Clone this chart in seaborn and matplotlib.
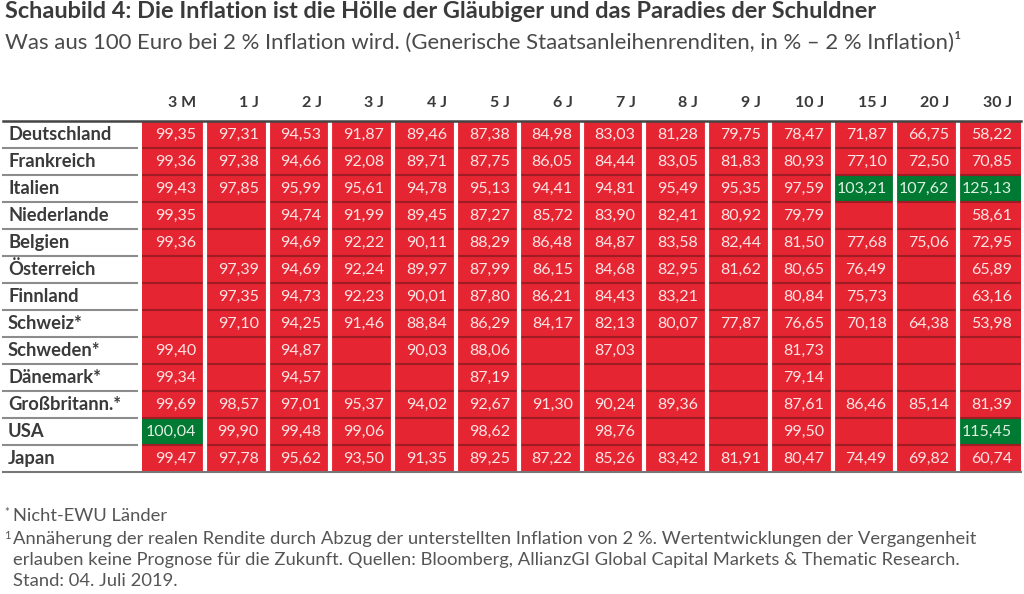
import numpy as np
import pandas as pd
import matplotlib
matplotlib.use("Agg")
import matplotlib.pyplot as plt
import matplotlib.transforms as mtransforms
from matplotlib.colors import ListedColormap
import seaborn as sns

nan = np.nan

maturities = ['3 M', '1 J', '2 J', '3 J', '4 J', '5 J', '6 J', '7 J', '8 J', '9 J', '10 J', '15 J', '20 J', '30 J']
countries = ['Deutschland', 'Frankreich', 'Italien', 'Niederlande', 'Belgien', 'Österreich', 'Finnland',
             'Schweiz*', 'Schweden*', 'Dänemark*', 'Großbritann.*', 'USA', 'Japan']

deutschland = [99.35, 97.31, 94.53, 91.87, 89.46, 87.38, 84.98, 83.03, 81.28, 79.75, 78.47, 71.87, 66.75, 58.22]
frankreich = [99.36, 97.38, 94.66, 92.08, 89.71, 87.75, 86.05, 84.44, 83.05, 81.83, 80.93, 77.10, 72.50, 70.85]
italien = [99.43, 97.85, 95.99, 95.61, 94.78, 95.13, 94.41, 94.81, 95.49, 95.35, 97.59, 103.21, 107.62, 125.13]
niederlande = [99.35, nan, 94.74, 91.99, 89.45, 87.27, 85.72, 83.90, 82.41, 80.92, 79.79, nan, nan, 58.61]
belgien = [99.36, nan, 94.69, 92.22, 90.11, 88.29, 86.48, 84.87, 83.58, 82.44, 81.50, 77.68, 75.06, 72.95]
oesterreich = [nan, 97.39, 94.69, 92.24, 89.97, 87.99, 86.15, 84.68, 82.95, 81.62, 80.65, 76.49, nan, 65.89]
finnland = [nan, 97.35, 94.73, 92.23, 90.01, 87.80, 86.21, 84.43, 83.21, nan, 80.84, 75.73, nan, 63.16]
schweiz = [nan, 97.10, 94.25, 91.46, 88.84, 86.29, 84.17, 82.13, 80.07, 77.87, 76.65, 70.18, 64.38, 53.98]
schweden = [99.40, nan, 94.87, nan, 90.03, 88.06, nan, 87.03, nan, nan, 81.73, nan, nan, nan]
daenemark = [99.34, nan, 94.57, nan, nan, 87.19, nan, nan, nan, nan, 79.14, nan, nan, nan]
grossbritannien = [99.69, 98.57, 97.01, 95.37, 94.02, 92.67, 91.30, 90.24, 89.36, nan, 87.61, 86.46, 85.14, 81.39]
usa = [100.04, 99.90, 99.48, 99.06, nan, 98.62, nan, 98.76, nan, nan, 99.50, nan, nan, 115.45]
japan = [99.47, 97.78, 95.62, 93.50, 91.35, 89.25, 87.22, 85.26, 83.42, 81.91, 80.47, 74.49, 69.82, 60.74]

df = pd.DataFrame([deutschland, frankreich, italien, niederlande, belgien, oesterreich, finnland,
                   schweiz, schweden, daenemark, grossbritannien, usa, japan],
                  index=countries, columns=maturities)

RED = '#e52532'
GREEN = '#007a33'
DARKRED = '#a01c24'
TEXT = '#3a3a3a'

plt.rcParams['font.family'] = ['Lato', 'DejaVu Sans']

fig = plt.figure(figsize=(10.24, 5.94), dpi=100)
W, H = 1024, 594
ax = fig.add_axes([142 / W, 1 - 472 / H, (1021 - 142) / W, 351 / H])

# green where 100 Euro grow, red otherwise (also for missing values)
colour_code = (df > 100).astype(int)
sns.heatmap(colour_code, cmap=ListedColormap([RED, GREEN]), vmin=0, vmax=1, cbar=False,
            xticklabels=False, yticklabels=False, ax=ax)

n_rows, n_cols = df.shape
for i in range(1, n_rows):
    ax.axhline(i, color=DARKRED, lw=1.5)
for j in range(1, n_cols):
    ax.axvline(j, color='white', lw=3)

for i in range(n_rows):
    for j in range(n_cols):
        v = df.iat[i, j]
        if np.isnan(v):
            continue
        col = '#dff0e2' if v > 100 else '#fde3e3'
        ax.text(j + 0.86, i + 0.5, f"{v:.2f}".replace('.', ','), ha='right', va='center',
                color=col, fontsize=11.5)

for j, m in enumerate(maturities):
    ax.text(j + 0.86, -0.67, m, ha='right', va='center', fontweight='bold', color=TEXT, fontsize=11.5)

trans = mtransforms.blended_transform_factory(fig.transFigure, ax.transData)
for i, c in enumerate(countries):
    ax.text(8 / W, i + 0.5, c, transform=trans, ha='left', va='center', fontweight='bold',
            color=TEXT, fontsize=13.2)
for i in range(1, n_rows):
    ax.plot([3 / W, 137 / W], [i, i], transform=trans, color='#8c8c8c', lw=1.5, clip_on=False)
ax.plot([3 / W, 1021 / W], [0, 0], transform=trans, color='#444444', lw=1.8, clip_on=False)
ax.plot([3 / W, 1021 / W], [n_rows, n_rows], transform=trans, color='#777777', lw=1.5, clip_on=False)

fig.text(5 / W, 1 - 1 / H, 'Schaubild 4: Die Inflation ist die Hölle der Gläubiger und das Paradies der Schuldner',
         ha='left', va='top', fontsize=16.9, fontweight='bold', color=TEXT)
fig.text(5 / W, 1 - 32 / H,
         'Was aus 100 Euro bei 2 % Inflation wird. (Generische Staatsanleihenrenditen, in % – 2 % Inflation)¹',
         ha='left', va='top', fontsize=15.9, color='#4a4a4a')

foot = '#555555'
fig.text(4 / W, 1 - 507 / H, '*', ha='left', va='top', fontsize=8, color=foot)
fig.text(13 / W, 1 - 508 / H, 'Nicht-EWU Länder', ha='left', va='top', fontsize=13.2, color=foot)
fig.text(4 / W, 1 - 530 / H, '1', ha='left', va='top', fontsize=8, color=foot)
fig.text(13 / W, 1 - 531 / H,
         'Annäherung der realen Rendite durch Abzug der unterstellten Inflation von 2 %. Wertentwicklungen der Vergangenheit\n'
         'erlauben keine Prognose für die Zukunft. Quellen: Bloomberg, AllianzGI Global Capital Markets & Thematic Research.\n'
         'Stand: 04. Juli 2019.',
         ha='left', va='top', fontsize=13.2, color=foot, linespacing=1.38)

fig.savefig('out.png', dpi=100)
